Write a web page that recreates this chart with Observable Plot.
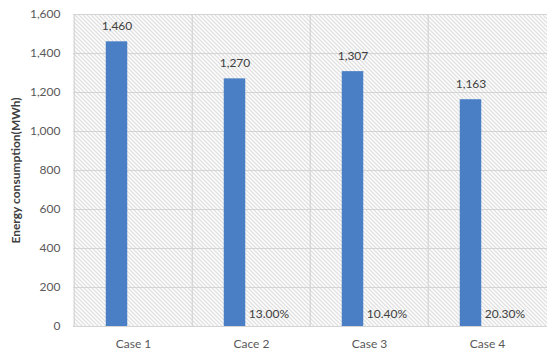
<!DOCTYPE html>
<html><head><meta charset="utf-8">
<script src="https://cdn.jsdelivr.net/npm/d3@7"></script>
<script src="https://cdn.jsdelivr.net/npm/@observablehq/plot@0.6"></script>
<style>
body{margin:0;background:#fff;}
#chart svg{display:block;}
</style>
</head><body><div id="chart"></div>
<script>
const cases = ["Case 1", "Cace 2", "Case 3", "Case 4"];
const energy = [1460, 1270, 1307, 1163];
const savings = [null, "13.00%", "10.40%", "20.30%"];
const yTicks = [0, 200, 400, 600, 800, 1000, 1200, 1400, 1600];

const data = cases.map((c, i) => ({case: c, energy: energy[i], pct: savings[i]}));

const W = 547, H = 358, ML = 73, MR = 0, MT = 14, MB = 32;
const bw = (W - ML - MR) / cases.length;
const barW = 22, off = 16.5;
const inset = (bw - barW) / 2;
const font = "Lato, 'Open Sans', sans-serif";
const fmt = d3.format(",");

const chart = Plot.plot({
  width: W, height: H, marginLeft: ML, marginRight: MR, marginTop: MT, marginBottom: MB,
  style: {fontFamily: font, fontSize: "11px", color: "#595959", background: "#fff"},
  x: {domain: cases, padding: 0, axis: null},
  y: {domain: [0, 1600], axis: null},
  marks: [
    Plot.frame({fill: "url(#hatch)", stroke: null}),
    Plot.gridY(yTicks, {stroke: "#d4d4d4", strokeOpacity: 1, strokeWidth: 1.2}),
    Plot.gridX(cases, {stroke: "#d4d4d4", strokeOpacity: 1, strokeWidth: 1.2, dx: -bw / 2}),
    Plot.barY(data, {x: "case", y: "energy", fill: "#4a7fc6", insetLeft: inset, insetRight: inset, dx: -off}),
    Plot.text(data, {x: "case", y: "energy", text: d => fmt(d.energy), dx: -off, dy: -12, lineAnchor: "bottom", fill: "#404040", fontSize: 12}),
    Plot.text(data.filter(d => d.pct), {x: "case", y: () => 0, text: "pct", dx: off + 1, dy: -9, lineAnchor: "bottom", fill: "#404040", fontSize: 12}),
    Plot.axisY({ticks: yTicks, tickFormat: fmt, tickSize: 0, tickPadding: 13, fontSize: 12, label: "Energy consumption(MWh)", labelAnchor: "center", labelArrow: "none", labelOffset: 62}),
    Plot.axisX({tickSize: 0, tickPadding: 13, fontSize: 12, label: null})
  ]
});

const ns = "http://www.w3.org/2000/svg";
const defs = document.createElementNS(ns, "defs");
defs.innerHTML = `<pattern id="hatch" patternUnits="userSpaceOnUse" width="4" height="4">
  <rect width="4" height="4" fill="#ffffff"/>
  <path d="M-1,-1 L5,5 M-1,3 L1,5 M3,-1 L5,1" stroke="#c2c2c2" stroke-width="1"/>
</pattern>`;
chart.insertBefore(defs, chart.firstChild);

chart.querySelectorAll('[aria-label="y-axis label"] text, [aria-label="y-axis label"]').forEach(e => {
  e.setAttribute("font-weight", "bold");
  e.setAttribute("fill", "#404040");
  e.setAttribute("font-size", "12");
});
document.getElementById("chart").appendChild(chart);
</script>
</body></html>
